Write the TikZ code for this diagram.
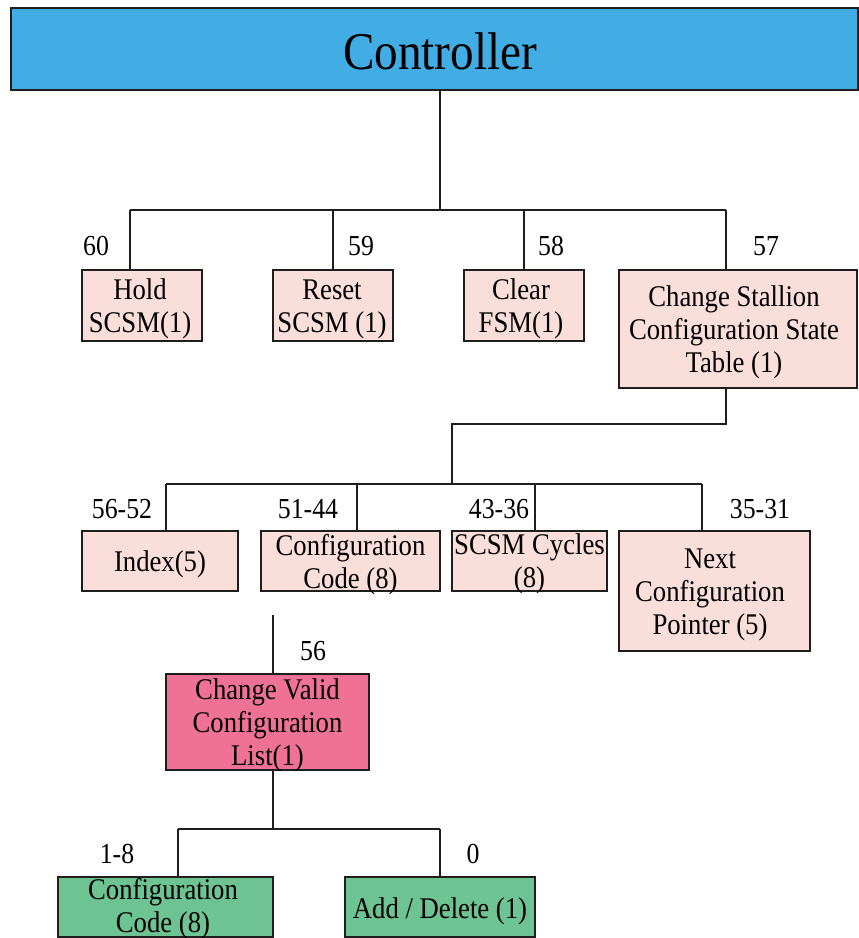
\documentclass[tikz,border=0pt]{standalone}
\usepackage{fontspec}
\setmainfont{Liberation Serif}[FakeStretch=0.89]
\definecolor{ctrlblue}{HTML}{41ADE4}
\definecolor{fieldpink}{HTML}{F9DEDA}
\definecolor{listpink}{HTML}{EF7296}
\definecolor{opgreen}{HTML}{6DC391}
\definecolor{edge}{HTML}{1E1E1E}
\tikzset{
  fieldbox/.style={draw=edge, line width=1.3pt, fill=fieldpink, inner sep=0pt,
    align=center, font=\fontsize{30}{33}\selectfont},
  listbox/.style={fieldbox, fill=listpink},
  opbox/.style={fieldbox, fill=opgreen},
  boxtext/.style={inner sep=0pt, align=center, font=\fontsize{30}{33}\selectfont},
  bitlabel/.style={inner sep=0pt, anchor=base, font=\fontsize{29}{33}\selectfont},
  wire/.style={draw=edge, line width=1.2pt}
}
\begin{document}
\begin{tikzpicture}[x=1pt, y=-1pt]
\useasboundingbox (0,0) rectangle (859,938);

% top-level controller
\node[fieldbox, fill=ctrlblue, minimum width=847pt, minimum height=82pt] (ctrl) at (434.5,49) {};
\node[inner sep=0pt, font=\fontsize{53}{60}\selectfont] (ctrltxt) at (440,51) {Controller};

% first level of commands
\node[fieldbox, minimum width=120pt, minimum height=71pt] (hold) at (142,305.5) {};
\node[fieldbox, minimum width=120pt, minimum height=71pt] (reset) at (333,305.5) {};
\node[fieldbox, minimum width=120pt, minimum height=71pt] (clear) at (524,305.5) {};
\node[fieldbox, minimum width=238pt, minimum height=118pt] (change) at (738,329) {};
\node[boxtext] (holdtxt) at (140,309) {Hold\\SCSM(1)};
\node[boxtext] (resettxt) at (332,309) {Reset\\SCSM (1)};
\node[boxtext] (cleartxt) at (521,309) {Clear\\FSM(1)};
\node[boxtext] (changetxt) at (734,332) {Change Stallion\\Configuration State\\Table (1)};

\node[bitlabel] (b60) at (96,255) {60};
\node[bitlabel] (b59) at (361,255) {59};
\node[bitlabel] (b58) at (551,255) {58};
\node[bitlabel] (b57) at (766,255) {57};

% fields of the state table entry
\node[fieldbox, minimum width=156pt, minimum height=60pt] (index) at (160,561) {};
\node[fieldbox, minimum width=179pt, minimum height=60pt] (code) at (350.5,561) {};
\node[fieldbox, minimum width=155pt, minimum height=60pt] (cycles) at (529.5,561) {};
\node[fieldbox, minimum width=191pt, minimum height=120pt] (next) at (714.5,591) {};
\node[boxtext] (indextxt) at (160,564) {Index(5)};
\node[boxtext] (codetxt) at (350.5,565) {Configuration\\Code (8)};
\node[boxtext] (cyclestxt) at (529.5,564) {SCSM Cycles\\(8)};
\node[boxtext] (nexttxt) at (710,595) {Next\\Configuration\\Pointer (5)};

\node[bitlabel] (b5652) at (122,518) {56-52};
\node[bitlabel] (b5144) at (308,518) {51-44};
\node[bitlabel] (b4336) at (499,518) {43-36};
\node[bitlabel] (b3531) at (760,518) {35-31};

% valid configuration list command
\node[listbox, minimum width=203pt, minimum height=96pt] (valid) at (267.5,722) {};
\node[boxtext] (validtxt) at (267.5,725) {Change Valid\\Configuration\\List(1)};
\node[bitlabel] (b56) at (313,660) {56};

\node[opbox, minimum width=215pt, minimum height=60pt] (gcode) at (165.5,907) {};
\node[opbox, minimum width=190pt, minimum height=60pt] (adddel) at (440,907) {};
\node[boxtext] (gcodetxt) at (163,909) {Configuration\\Code (8)};
\node[boxtext] (adddeltxt) at (440,911) {Add / Delete (1)};

\node[bitlabel] (b18) at (117,863) {1-8};
\node[bitlabel] (b0) at (473,863) {0};

% junction points of the buses
\coordinate (j1) at (440,210);
\coordinate (d60) at (130,210);
\coordinate (d57) at (726,210);
\coordinate (k1) at (726,424);
\coordinate (k2) at (452,424);
\coordinate (e1) at (166,484);
\coordinate (e4) at (702,484);
\coordinate (vtop) at (273,615);
\coordinate (m1) at (273,829);
\coordinate (f1) at (178,829);
\coordinate (f2) at (440,829);

% controller bus
\draw[wire] (ctrl.south -| j1) -- (j1);
\draw[wire] (d60) -- (d57);
\draw[wire] (d60) -- (hold.north -| d60);
\draw[wire] (reset.north |- j1) -- (reset.north);
\draw[wire] (clear.north |- j1) -- (clear.north);
\draw[wire] (d57) -- (change.north -| d57);

% state table bus
\draw[wire] (change.south -| k1) -- (k1) -- (k2) -- (k2 |- e1);
\draw[wire] (e1) -- (e4);
\draw[wire] (e1) -- (index.north -| e1);
\draw[wire] (e1 -| 357,0) -- (code.north -| 357,0);
\draw[wire] (e1 -| 535,0) -- (cycles.north -| 535,0);
\draw[wire] (e4) -- (next.north -| e4);

% valid list bus
\draw[wire] (vtop) -- (valid.north -| vtop);
\draw[wire] (valid.south -| m1) -- (m1);
\draw[wire] (f1) -- (f2);
\draw[wire] (f1) -- (gcode.north -| f1);
\draw[wire] (f2) -- (adddel.north -| f2);
\end{tikzpicture}
\end{document}
